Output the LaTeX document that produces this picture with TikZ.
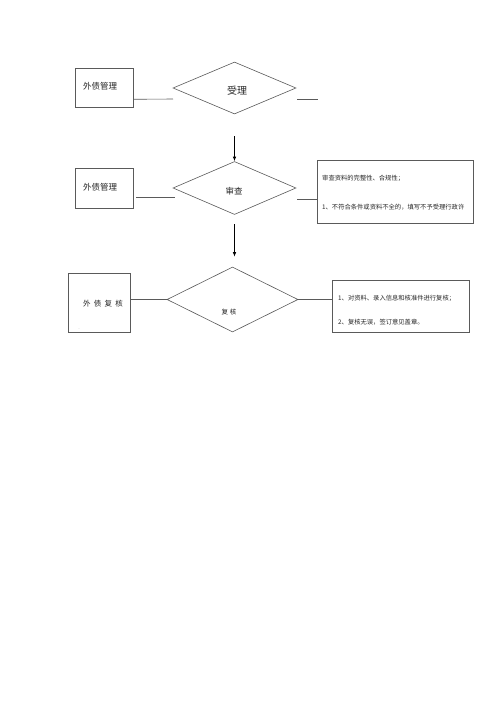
\documentclass[tikz,border=0pt]{standalone}
\usepackage{fontspec}
\newfontfamily\cjk{Noto Sans CJK SC}
\usetikzlibrary{shapes.geometric,arrows.meta,calc}
\definecolor{linegray}{HTML}{5A5A5A}
\begin{document}
\begin{tikzpicture}[x=1pt,y=-1pt,
  box/.style={draw=linegray, line width=0.6pt, rectangle, inner sep=0pt},
  dia/.style={draw=linegray, line width=0.6pt, diamond, inner sep=0pt},
  conn/.style={draw=linegray, line width=0.6pt},
  arr/.style={draw=black, line width=0.7pt, -{Latex[length=4.5pt,width=3.5pt]}},
  lbl/.style={inner sep=0pt, text=black!85, font=\cjk\fontsize{8.5}{10}\selectfont},
  small/.style={inner sep=0pt, anchor=west, text=black!85, font=\cjk\fontsize{6.3}{7}\selectfont}]
\fill[white] (0,0) rectangle (500,707);
\useasboundingbox (0,0) rectangle (500,707);

% row 1
\node[box, minimum width=58pt, minimum height=39pt] (box1) at (104,87.5) {};
\node[lbl] (t1) at (100,86) {外债管理};
\node[dia, minimum width=123pt, minimum height=52pt] (d1) at (234.5,88) {};
\node[lbl, font=\cjk\fontsize{10}{12}\selectfont] (td1) at (237,91) {受理};
\coordinate (r1a) at (173,99);
\coordinate (r1b) at (297,99);
\coordinate (r1c) at (318,99);
\draw[conn] ($(box1.south east)+(0,-8)$) -- (r1a);
\draw[conn] (r1b) -- (r1c);

% arrow 1
\node[dia, minimum width=123pt, minimum height=53pt] (d2) at (234.5,188) {};
\coordinate (s1) at (234.5,136);
\draw[arr] (s1) -- (d2.north);

% row 2
\node[box, minimum width=58pt, minimum height=40pt] (box2) at (104,188) {};
\node[lbl] (t2) at (100,187) {外债管理};
\node[lbl] (td2) at (234,191) {审查};
\node[box, minimum width=156pt, minimum height=63pt] (box3) at (395,191.5) {};
\node[small] (t3a) at (322,178) {审查资料的完整性、合规性；};
\node[small] (t3b) at (322,207) {1、不符合条件或资料不全的，填写不予受理行政许};
\coordinate (r2a) at (136,197);
\coordinate (r2b) at (175,197);
\coordinate (r2c) at (297,199);
\draw[conn] (r2a) -- (r2b);
\draw[conn] (r2c) -- ($(box3.west)+(0,7.5)$);

% arrow 2
\node[dia, minimum width=131pt, minimum height=65pt] (d3) at (232.5,299.5) {};
\coordinate (s2) at (234.5,224);
\draw[arr] (s2) -- ($(d3.north)+(2,-10)$);

% row 3
\node[box, minimum width=62pt, minimum height=59pt] (box4) at (99,302.5) {};
\node[lbl, font=\cjk\fontsize{7.5}{9}\selectfont] (t4) at (103,304) {外\kern3.3pt 债\kern3.3pt 复\kern3.3pt 核};
\node[inner sep=0pt, font=\fontsize{3}{3}\selectfont, text=black!60] (t4dot) at (79,329) {..};
\node[lbl, font=\cjk\fontsize{6.5}{8}\selectfont] (td3) at (229,312) {复\kern2pt 核};
\node[box, minimum width=137pt, minimum height=52pt] (box5) at (400.5,306) {};
\node[small] (t5a) at (338,298) {1、对资料、录入信息和核准件进行复核；};
\node[small] (t5b) at (338,322) {2、复核无误，签订意见盖章。};
\draw[conn] (box4.east |- d3.west) -- (d3.west);
\draw[conn] (d3.east) -- (d3.east -| box5.west);
\end{tikzpicture}
\end{document}
